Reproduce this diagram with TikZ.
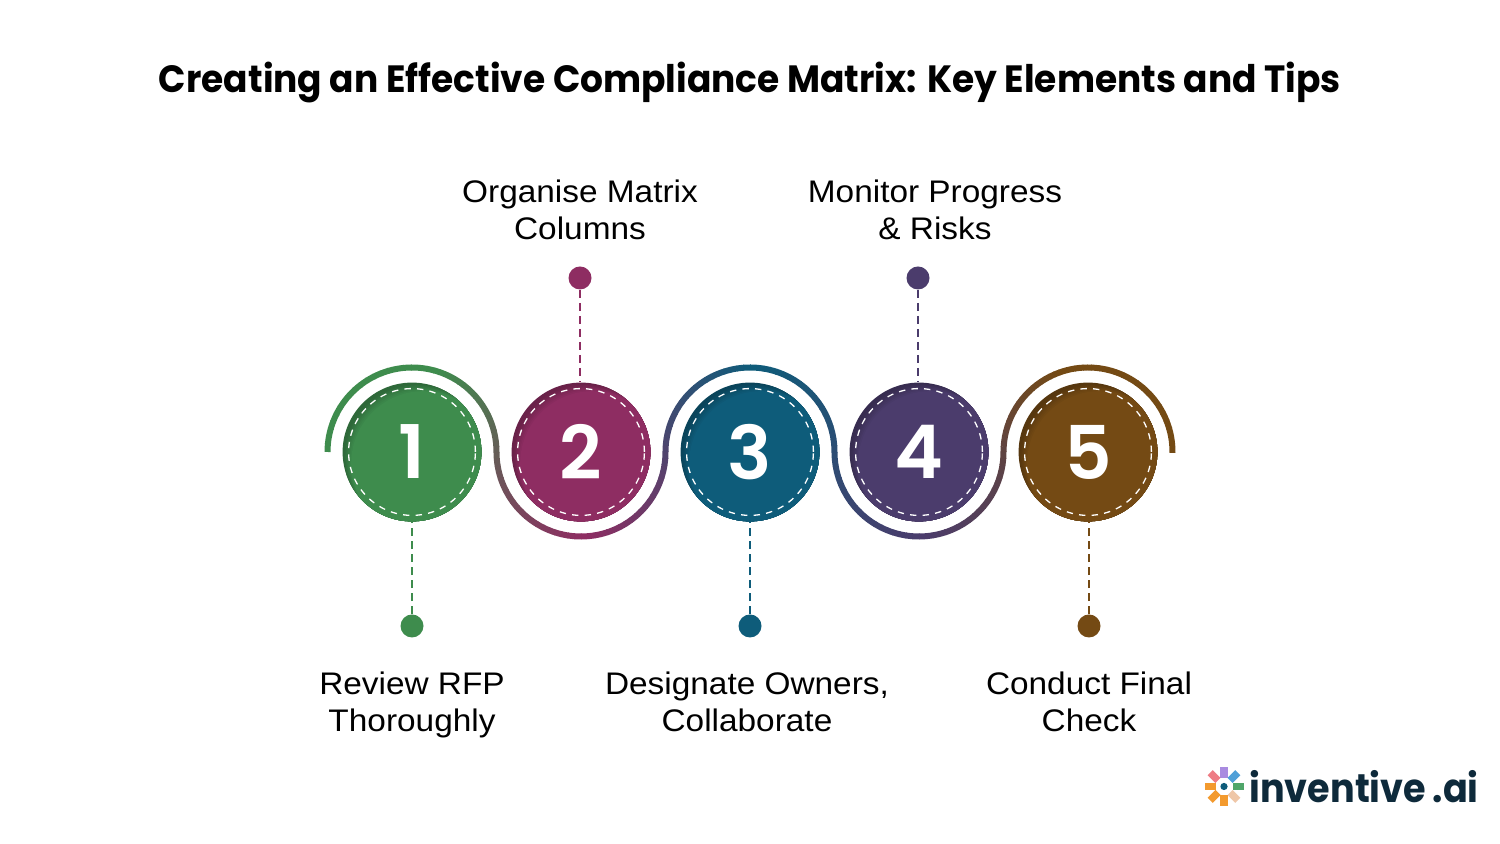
\documentclass[tikz,border=0pt]{standalone}
\usepackage{fontspec}
\usetikzlibrary{calc}
\setmainfont{Liberation Sans}[FakeStretch=1.07]
\newfontfamily\titlefont{Poppins}[FakeStretch=0.947]
\newfontfamily\digitfont{Poppins SemiBold}
\newfontfamily\logofont{Poppins}[FakeStretch=0.915]
\definecolor{leaf}{HTML}{3E8C4D}
\definecolor{plum}{HTML}{8E2D62}
\definecolor{sea}{HTML}{0E5C7A}
\definecolor{dusk}{HTML}{4B3C6C}
\definecolor{bark}{HTML}{744A14}
\definecolor{ink}{HTML}{0E2A3B}
\colorlet{leafplum}{leaf!50!plum}
\colorlet{plumsea}{plum!50!sea}
\colorlet{seadusk}{sea!50!dusk}
\colorlet{duskbark}{dusk!50!bark}
\tikzset{
    stepcircle/.style={circle, minimum size=69.4pt, inner sep=0pt, text=white,
        font=\digitfont\fontsize{37}{37}\selectfont, fill=#1!74!black,
        path picture={
            \foreach \k in {0,1,...,6} {
                \pgfmathtruncatemacro{\shadeval}{76+4*\k}
                \fill[#1!\shadeval!black]
                    ([shift={({\k*0.6pt+2pt},{-\k*0.6pt-2pt})}]path picture bounding box.center) circle (36pt);
            }
            \draw[white, line width=0.65pt, dash pattern=on 3.2pt off 3.1pt]
                (path picture bounding box.center) circle (31.7pt);
        }},
    stepdot/.style={circle, minimum size=11.5pt, inner sep=0pt, fill=#1},
    steplink/.style={draw=#1, line width=1.15pt, dash pattern=on 4pt off 2.5pt},
    steptext/.style={align=center, font=\fontsize{15.6}{18.8}\selectfont},
    ribbon/.style={line width=3pt},
    petal/.style={minimum width=5.5pt, minimum height=3.6pt, inner sep=0pt, fill=#1}
}
\begin{document}
\begin{tikzpicture}[x=0.5pt, y=0.5pt, node distance=84.5pt, auto]
    \useasboundingbox (0,0) rectangle (1500,844);

    % Title
    \node (title) at (750,761) {\titlefont\bfseries\fontsize{19}{23}\selectfont Creating an Effective Compliance Matrix: Key Elements and Tips};

    % Ribbon
    \foreach \cx/\from/\to/\colA/\colB in {
        412/180/75/leaf/leaf, 412/75/0/leaf/leafplum,
        581/180/270/leafplum/plum, 581/270/360/plum/plumsea,
        750/180/90/plumsea/sea, 750/90/0/sea/seadusk,
        919/180/270/seadusk/dusk, 919/270/360/dusk/duskbark,
        1088/180/110/duskbark/bark, 1088/110/0/bark/bark} {
        \foreach \i in {0,...,19} {
            \pgfmathsetmacro{\startang}{\from+(\to-\from)*\i/20}
            \pgfmathsetmacro{\endang}{\from+(\to-\from)*(\i+1.1)/20}
            \pgfmathtruncatemacro{\mixval}{100-5*\i}
            \draw[ribbon, color=\colA!\mixval!\colB]
                ({\cx+84.5*cos(\startang)}, {392+84.5*sin(\startang)})
                arc[start angle=\startang, end angle=\endang, radius=84.5];
        }
    }

    % Nodes
    \node (one) [stepcircle=leaf] at (412,392) {1};
    \node (two) [stepcircle=plum, right of=one] {2};
    \node (three) [stepcircle=sea, right of=two] {3};
    \node (four) [stepcircle=dusk, right of=three] {4};
    \node (five) [stepcircle=bark, right of=four] {5};

    \node (dotone) [stepdot=leaf, below of=one, node distance=87pt] {};
    \node (dottwo) [stepdot=plum, above of=two, node distance=87pt, xshift=-0.5pt] {};
    \node (dotthree) [stepdot=sea, below of=three, node distance=87pt] {};
    \node (dotfour) [stepdot=dusk, above of=four, node distance=87pt, xshift=-0.5pt] {};
    \node (dotfive) [stepdot=bark, below of=five, node distance=87pt, xshift=0.5pt] {};

    \node (textone) [steptext] at (412,139) {Review RFP\\Thoroughly};
    \node (texttwo) [steptext] at (580,634) {Organise Matrix\\Columns};
    \node (textthree) [steptext] at (747,142) {Designate Owners,\\Collaborate};
    \node (textfour) [steptext] at (935,634) {Monitor Progress\\\& Risks};
    \node (textfive) [steptext] at (1089,142) {Conduct Final\\Check};

    % Arrows
    \draw[steplink=leaf] (dotone) -- (one);
    \draw[steplink=plum] (dottwo) -- (dottwo |- two.north);
    \draw[steplink=sea] (dotthree) -- (three);
    \draw[steplink=dusk] (dotfour) -- (dotfour |- four.north);
    \draw[steplink=bark] (dotfive) -- (dotfive |- five.south);

    % Logo
    \node (logotext) [anchor=west, inner sep=0pt, text=ink] at (1249,57) {\logofont\bfseries\fontsize{20}{20}\selectfont inventive\,.ai};
    \foreach \ang/\petalcol in {90/A98BE0, 45/4FA0D8, 0/4FA66A, -45/EFC7A8, -90/F39A2E, -135/F39A2E, 180/F39A2E, 135/EE7C84} {
        \definecolor{petalcol}{HTML}{\petalcol}
        \node (petal\ang) [petal=petalcol, rotate=\ang] at ($(1224,57.5)+(\ang:14)$) {};
    }
    \node (logodot) [circle, fill=sea, minimum size=3.6pt, inner sep=0pt] at (1224,57.5) {};
\end{tikzpicture}
\end{document}
